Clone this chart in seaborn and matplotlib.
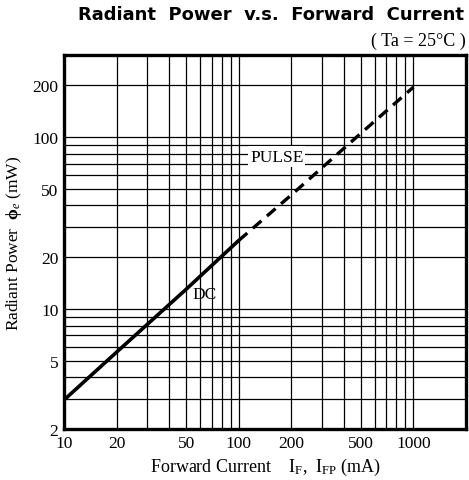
import matplotlib
matplotlib.use("Agg")
import matplotlib.pyplot as plt
import seaborn as sns
import pandas as pd
from matplotlib.ticker import FixedLocator, NullLocator

# Data
dc_current = [10, 20, 50, 100]
dc_power = [2.95, 5.6, 13.0, 25.0]
pulse_current = [100, 200, 500, 1000]
pulse_power = [25.0, 46.0, 105.0, 195.0]

x_ticks = [10, 20, 50, 100, 200, 500, 1000]
y_ticks = [2, 5, 10, 20, 50, 100, 200]
x_grid = [20, 30, 40, 50, 60, 70, 80, 90, 100, 200, 300, 400, 500, 600, 700, 800, 900, 1000]
y_grid = [3, 4, 5, 6, 7, 8, 9, 10, 20, 30, 40, 50, 60, 70, 80, 90, 100, 200]

sns.set_style("white")
plt.rcParams["font.family"] = ["Liberation Serif", "DejaVu Serif"]
plt.rcParams["text.color"] = "black"
plt.rcParams["xtick.color"] = "black"
plt.rcParams["ytick.color"] = "black"
plt.rcParams["axes.labelcolor"] = "black"
plt.rcParams["mathtext.fontset"] = "custom"
plt.rcParams["mathtext.rm"] = "Liberation Serif"
plt.rcParams["mathtext.it"] = "Liberation Serif:italic"
plt.rcParams["mathtext.bf"] = "Liberation Serif:bold"

fig = plt.figure(figsize=(4.69, 4.81), dpi=100)
ax = fig.add_axes([64 / 469, 1 - 430 / 481, (466 - 64) / 469, (430 - 56) / 481])

dc = pd.DataFrame({"I": dc_current, "P": dc_power})
pulse = pd.DataFrame({"I": pulse_current, "P": pulse_power})

ax.set_xscale("log")
ax.set_yscale("log")
ax.set_xlim(10, 2000)
ax.set_ylim(2, 300)

for v in x_grid:
    ax.axvline(v, color="black", lw=0.9, zorder=1)
for v in y_grid:
    ax.axhline(v, color="black", lw=0.9, zorder=1)

sns.lineplot(data=dc, x="I", y="P", ax=ax, color="black", lw=2.6, zorder=3)
sns.lineplot(data=pulse, x="I", y="P", ax=ax, color="black", lw=2.4,
             linestyle=(0, (3.4, 2.2)), zorder=3)

ax.xaxis.set_major_locator(FixedLocator(x_ticks))
ax.yaxis.set_major_locator(FixedLocator(y_ticks))
ax.xaxis.set_minor_locator(NullLocator())
ax.yaxis.set_minor_locator(NullLocator())
ax.set_xticklabels([str(v) for v in x_ticks])
ax.set_yticklabels([str(v) for v in y_ticks])
ax.tick_params(axis="both", length=0, labelsize=12.5, pad=4)

for s in ax.spines.values():
    s.set_linewidth(2.4)
    s.set_color("black")
    s.set_zorder(5)

ax.set_xlabel("Forward Current    I$_{\\mathrm{F}}$,  I$_{\\mathrm{FP}}$ (mA)", fontsize=13, labelpad=4)
ax.set_ylabel("Radiant Power  $\\mathbf{\\phi}_e$ (mW)", fontsize=12.5, labelpad=6)

ax.text(64, 12.2, "DC", fontsize=12.5, ha="center", va="center", zorder=4)
ax.text(165, 77, "PULSE", fontsize=12.5, ha="center", va="center", zorder=4,
        bbox=dict(facecolor="white", edgecolor="none", pad=1.5))

fig.text(464 / 469, 1 - 15 / 481, "Radiant  Power  v.s.  Forward  Current", ha="right", va="center",
         fontsize=13, fontweight="bold", family=["DejaVu Sans"])
fig.text(466 / 469, 1 - 41 / 481, "( Ta = 25\u00b0C )", ha="right", va="center", fontsize=13)

fig.savefig("out.png", dpi=100)
